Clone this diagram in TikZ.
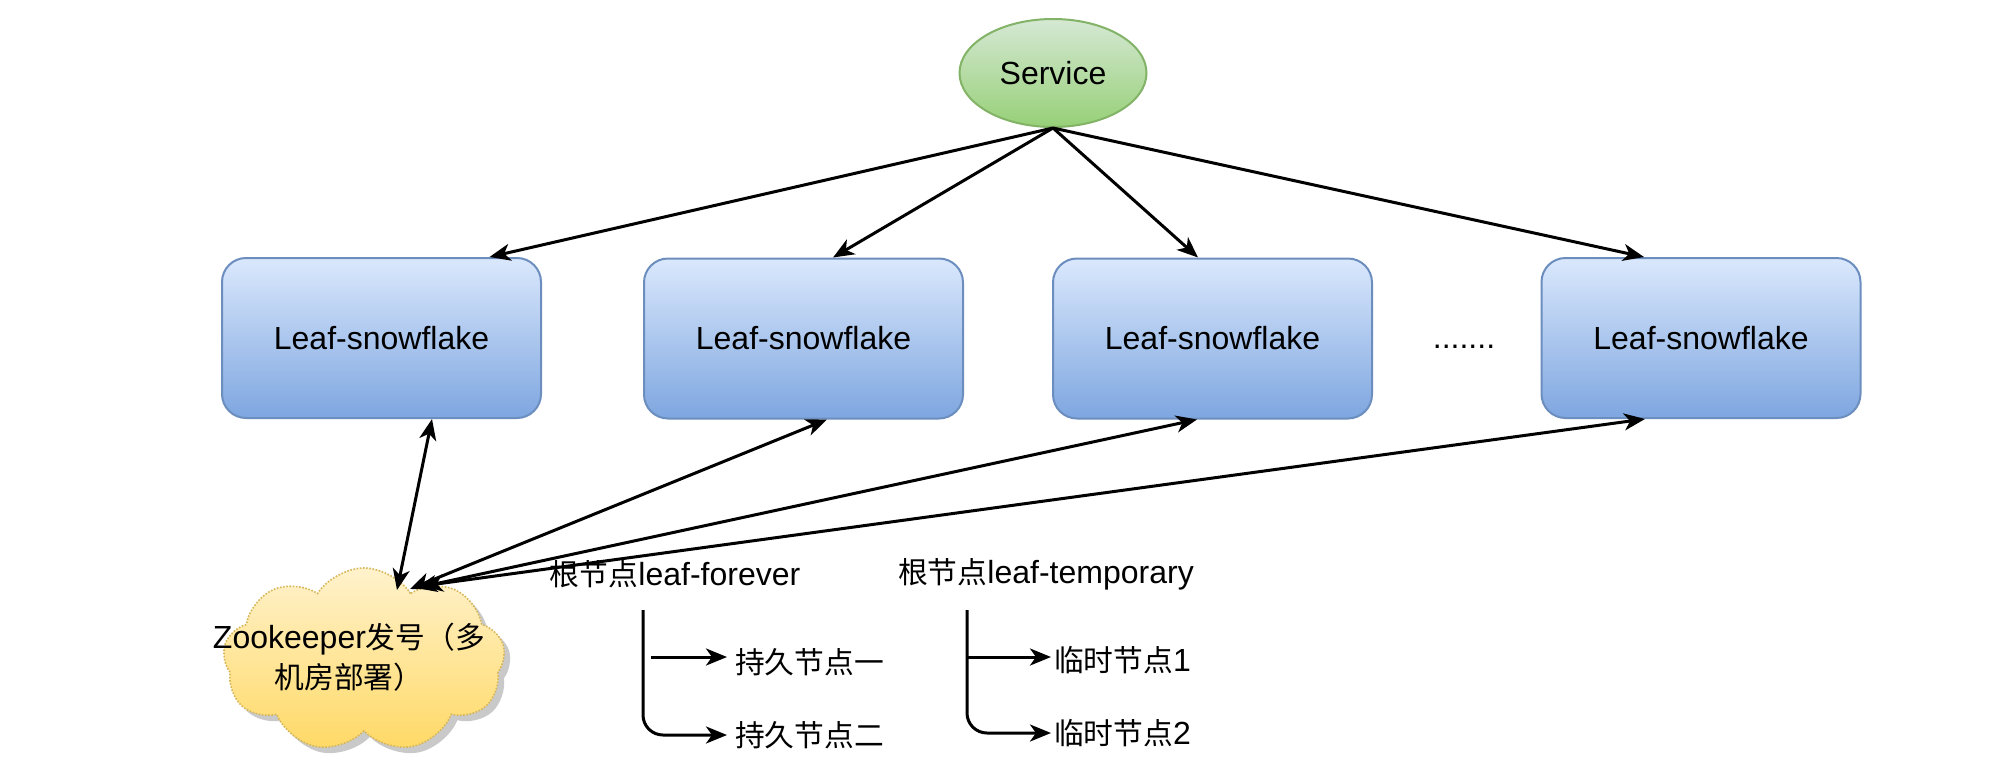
\documentclass[tikz,border=0pt]{standalone}
\usepackage{fontspec}
\setmainfont{Liberation Sans}
\newfontfamily\cjk[Scale=0.93]{Noto Sans CJK SC}
\usetikzlibrary{arrows.meta,shapes.symbols,shapes.geometric,shadows}
\definecolor{boxtop}{HTML}{DAE8FC}
\definecolor{boxbot}{HTML}{7EA6E0}
\definecolor{boxline}{HTML}{6C8EBF}
\definecolor{svctop}{HTML}{D5E8D4}
\definecolor{svcbot}{HTML}{97D077}
\definecolor{svcline}{HTML}{82B366}
\definecolor{cldtop}{HTML}{FFF2CC}
\definecolor{cldbot}{HTML}{FFD966}
\definecolor{cldline}{HTML}{D6B656}
\tikzset{
  leafbox/.style={rectangle, rounded corners=24pt, draw=boxline, line width=2pt,
    top color=boxtop, bottom color=boxbot, minimum width=319pt, minimum height=160pt, inner sep=0pt},
  svcnode/.style={ellipse, draw=svcline, line width=2pt, top color=svctop, bottom color=svcbot,
    minimum width=187pt, minimum height=108pt, inner sep=0pt},
  cloudnode/.style={cloud, cloud puffs=9, cloud puff arc=115, aspect=1.5,
    draw=cldline, line width=1.6pt, dash pattern=on 1.6pt off 1.6pt,
    top color=cldtop, bottom color=cldbot,
    minimum width=282pt, minimum height=184pt, inner sep=0pt,
    drop shadow={shadow xshift=6pt, shadow yshift=-6pt, opacity=0.35, fill=black!60}},
  lbl/.style={inner sep=0pt, text=black},
  arr/.style={line width=3pt, draw=black, -{Stealth[length=21pt, width=17pt, inset=6pt]}},
  biarr/.style={line width=3pt, draw=black, {Stealth[length=21pt, width=17pt, inset=6pt]}-{Stealth[length=21pt, width=17pt, inset=6pt]}}
}
\begin{document}
\begin{tikzpicture}[x=1pt, y=-1pt, font=\fontsize{32}{40}\selectfont]
\useasboundingbox (0,0) rectangle (1990,772);
\fill[white] (0,0) rectangle (1990,772);

% service
\node[svcnode] (svc) at (1053,73) {Service};

% leaf boxes
\node[leafbox] (b1) at (381.5,338) {Leaf-snowflake};
\node[leafbox] (b2) at (803.5,338.5) {Leaf-snowflake};
\node[leafbox] (b3) at (1212.5,338.5) {Leaf-snowflake};
\node[leafbox] (b4) at (1701,338) {Leaf-snowflake};
\node[lbl, anchor=base] (dots) at (1464,348) {.......};

% zookeeper cloud
\node[cloudnode] (zk) at (364,660) {};
\node[lbl, align=center] (zkt) at (349,657) {Zookeeper{\cjk 发号（多}\\{\cjk 机房部署）}};

% service -> boxes
\draw[arr] (svc.south) -- ([xshift=108pt]b1.north);
\draw[arr] (svc.south) -- ([xshift=29.5pt]b2.north);
\draw[arr] (svc.south) -- ([xshift=-14.5pt]b3.north);
\draw[arr] (svc.south) -- ([xshift=-57pt]b4.north);

% cloud <-> boxes
\coordinate (z1) at (397,590);
\coordinate (z2) at (410,589);
\coordinate (z3) at (416,588);
\coordinate (z4) at (422,586);
\draw[biarr] (z1) -- ([xshift=50.5pt]b1.south);
\draw[biarr] (z2) -- ([xshift=23.5pt]b2.south);
\draw[biarr] (z3) -- ([xshift=-15.5pt]b3.south);
\draw[biarr] (z4) -- ([xshift=-56pt]b4.south);

% trees
\node[lbl, anchor=west] (r1) at (549,574) {{\cjk 根节点}leaf-forever};
\node[lbl, anchor=west] (r2) at (898,574) {{\cjk 根节点}leaf-temporary};
\node[lbl, anchor=west] (p1) at (735,662) {\cjk 持久节点一};
\node[lbl, anchor=west] (p2) at (735,735) {\cjk 持久节点二};
\node[lbl, anchor=west] (t1) at (1054,660) {{\cjk 临时节点}1};
\node[lbl, anchor=west] (t2) at (1054,733) {{\cjk 临时节点}2};

\coordinate (v1) at (643,610);
\coordinate (v2) at (967,610);
\coordinate (u1) at (651,657);
\coordinate (u2) at (967,657);
\draw[arr, rounded corners=20pt] (v1) |- ([xshift=-8pt]p2.west);
\draw[arr] (u1) -- ([xshift=-8pt,yshift=5pt]p1.west);
\draw[arr, rounded corners=20pt] (v2) |- ([xshift=-3pt]t2.west);
\draw[arr] (u2) -- ([xshift=-3pt,yshift=3pt]t1.west);
\end{tikzpicture}
\end{document}
